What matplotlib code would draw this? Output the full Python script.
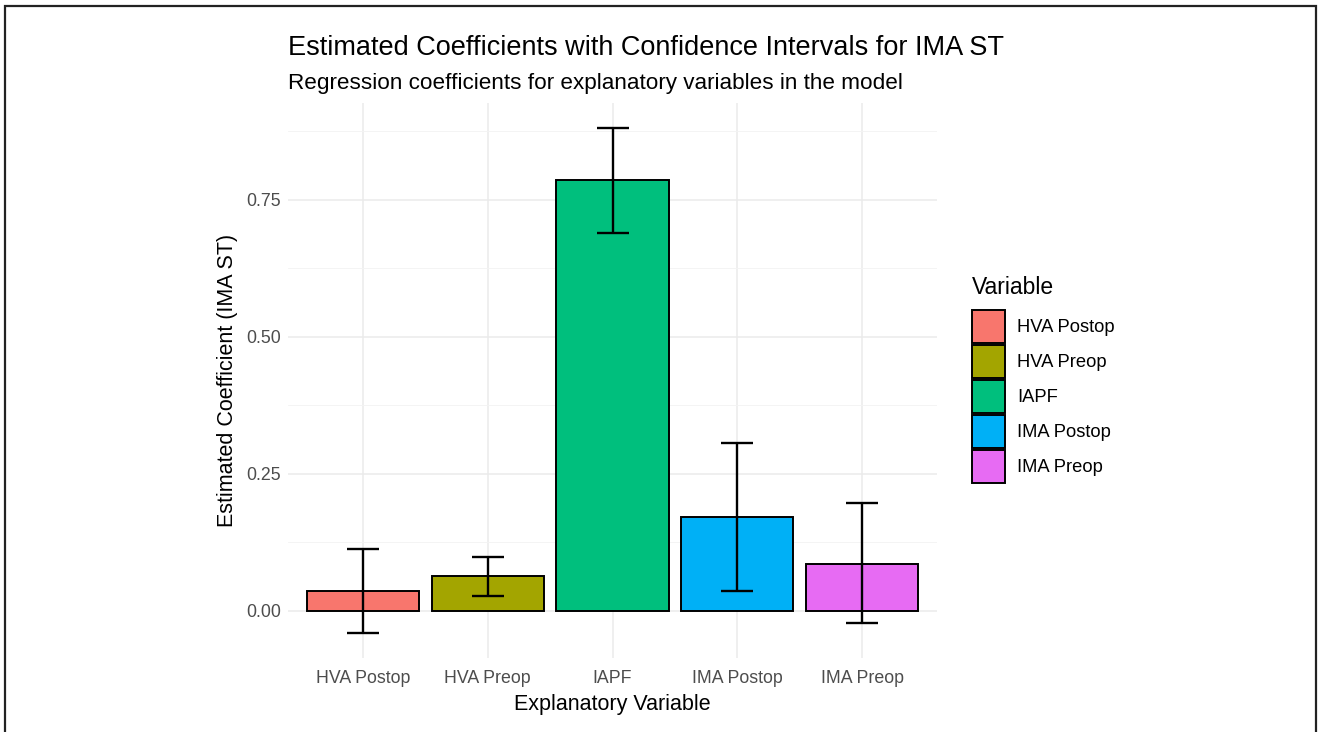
import matplotlib
matplotlib.use("Agg")
import matplotlib.pyplot as plt
from matplotlib.patches import Patch, Rectangle
import numpy as np

categories = ["HVA Postop", "HVA Preop", "IAPF", "IMA Postop", "IMA Preop"]
estimates = [0.036, 0.064, 0.785, 0.171, 0.086]
ci_lower = [-0.040, 0.027, 0.689, 0.036, -0.023]
ci_upper = [0.112, 0.098, 0.880, 0.306, 0.196]
colors = ["#F8766D", "#A3A500", "#00BF7D", "#00B0F6", "#E76BF3"]
yticks = [0.00, 0.25, 0.50, 0.75]
ytick_labels = ["0.00", "0.25", "0.50", "0.75"]

plt.rcParams['font.family'] = ['Liberation Sans', 'DejaVu Sans']

W, H = 1318, 732
fig = plt.figure(figsize=(W / 100, H / 100), dpi=100)
ax = fig.add_axes([288 / W, 1 - 658 / H, (937 - 288) / W, (658 - 103) / H])

x = np.arange(1, len(categories) + 1)
ax.bar(x, estimates, width=0.9, color=colors, edgecolor="black", linewidth=1.4, zorder=3)
est = np.array(estimates)
yerr = [est - np.array(ci_lower), np.array(ci_upper) - est]
ax.errorbar(x, est, yerr=yerr, fmt="none", ecolor="black", elinewidth=1.7,
            capsize=11.5, capthick=1.7, zorder=4)

ax.set_xlim(0.4, 5.6)
lo = min(ci_lower + [0]); hi = max(ci_upper)
pad = (hi - lo) * 0.05
ax.set_ylim(lo - pad, hi + pad)

ax.set_xticks(x)
ax.set_xticklabels(categories, fontsize=12.8, color="#4D4D4D")
ax.set_yticks(yticks)
ax.set_yticklabels(ytick_labels, fontsize=12.8, color="#4D4D4D")
ax.set_yticks([0.125, 0.375, 0.625, 0.875], minor=True)
ax.tick_params(axis="both", which="both", length=0)
ax.tick_params(axis="y", pad=5)
ax.tick_params(axis="x", pad=8.5)
ax.grid(True, which="major", color="#EBEBEB", linewidth=1.1, zorder=0)
ax.grid(True, which="minor", axis="y", color="#F3F3F3", linewidth=0.6, zorder=0)
for s in ax.spines.values():
    s.set_visible(False)

ax.set_xlabel("Explanatory Variable", fontsize=15.5, color="black", labelpad=5)
ax.set_ylabel("Estimated Coefficient (IMA ST)", fontsize=15.5, color="black", labelpad=6)

fig.text(288 / W, 1 - 48 / H, "Estimated Coefficients with Confidence Intervals for IMA ST",
         fontsize=19.5, color="black", va="center", ha="left")
fig.text(288 / W, 1 - 84 / H, "Regression coefficients for explanatory variables in the model",
         fontsize=16.2, color="black", va="center", ha="left")

fig.text(972 / W, 1 - 288 / H, "Variable", fontsize=16.5, color="black",
         va="center", ha="left")
handles = [Patch(facecolor=c, edgecolor="black", linewidth=1.4) for c in colors]
leg = fig.legend(handles, categories, loc="upper left",
                 bbox_to_anchor=(972 / W, 1 - 310 / H), frameon=False,
                 borderaxespad=0, borderpad=0,
                 fontsize=13.2, handlelength=1.8, handleheight=2.4,
                 handletextpad=0.65, labelspacing=0.1)

fig.patches.append(Rectangle((5 / W, -0.01), (1316 - 5) / W, 1 - 6 / H + 0.01,
                             transform=fig.transFigure, fill=False,
                             edgecolor="#222222", linewidth=1.6))

fig.savefig("out.png", dpi=100)
